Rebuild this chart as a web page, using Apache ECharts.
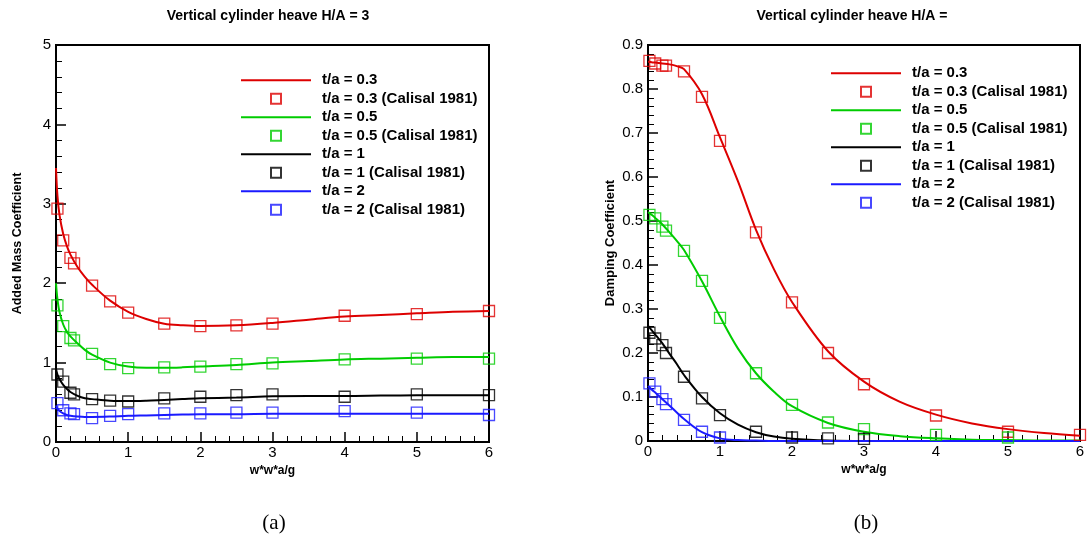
<!DOCTYPE html>
<html>
<head>
<meta charset="utf-8">
<script src="https://cdn.jsdelivr.net/npm/echarts@6/dist/echarts.min.js"></script>
<style>html,body{margin:0;padding:0;background:#fff;}#c{width:1090px;height:545px;}</style>
</head>
<body>
<div id="c"></div>
<script>
// ---- data ----
const expX = [0.02, 0.1, 0.2, 0.25, 0.5, 0.75, 1, 1.5, 2, 2.5, 3, 4, 5, 6];
const lineX = [0, 0.02, 0.05, 0.1, 0.15, 0.2, 0.3, 0.4, 0.5, 0.75, 1, 1.25, 1.5, 1.75, 2, 2.5, 3, 3.5, 4, 4.5, 5, 5.5, 6];

// Added mass (a)
const am03Line = [3.45, 3.1, 2.85, 2.62, 2.47, 2.36, 2.2, 2.08, 1.98, 1.78, 1.64, 1.55, 1.49, 1.47, 1.46, 1.47, 1.5, 1.54, 1.58, 1.6, 1.62, 1.64, 1.65];
const am03Exp  = [2.94, 2.54, 2.32, 2.25, 1.97, 1.77, 1.63, 1.49, 1.46, 1.47, 1.49, 1.59, 1.61, 1.65];
const am05Line = [2.0, 1.8, 1.63, 1.48, 1.39, 1.33, 1.24, 1.16, 1.1, 1.0, 0.95, 0.935, 0.935, 0.94, 0.95, 0.97, 1.0, 1.02, 1.04, 1.05, 1.06, 1.07, 1.07];
const am05Exp  = [1.72, 1.46, 1.31, 1.28, 1.11, 0.98, 0.93, 0.94, 0.95, 0.98, 0.99, 1.04, 1.05, 1.05];
const am1Line  = [0.92, 0.85, 0.79, 0.72, 0.67, 0.63, 0.58, 0.55, 0.54, 0.52, 0.515, 0.52, 0.53, 0.54, 0.55, 0.56, 0.575, 0.58, 0.58, 0.585, 0.59, 0.59, 0.59];
const am1Exp   = [0.85, 0.76, 0.62, 0.6, 0.54, 0.52, 0.51, 0.55, 0.57, 0.59, 0.6, 0.57, 0.6, 0.59];
const am2Line  = [0.46, 0.42, 0.39, 0.36, 0.34, 0.33, 0.32, 0.315, 0.315, 0.32, 0.33, 0.335, 0.34, 0.345, 0.35, 0.35, 0.355, 0.355, 0.355, 0.355, 0.355, 0.355, 0.355];
const am2Exp   = [0.49, 0.4, 0.36, 0.35, 0.3, 0.33, 0.35, 0.36, 0.36, 0.37, 0.37, 0.39, 0.37, 0.34];

// Damping (b)
const dp03Line = [0.862, 0.862, 0.861, 0.86, 0.859, 0.858, 0.856, 0.852, 0.845, 0.788, 0.69, 0.59, 0.48, 0.39, 0.316, 0.204, 0.135, 0.089, 0.06, 0.04, 0.027, 0.018, 0.012];
const dp03Exp  = [0.864, 0.858, 0.853, 0.853, 0.84, 0.782, 0.682, 0.474, 0.315, 0.2, 0.129, 0.058, 0.021, 0.014];
const dp05Line = [0.52, 0.518, 0.514, 0.507, 0.5, 0.492, 0.474, 0.455, 0.434, 0.363, 0.283, 0.21, 0.154, 0.112, 0.079, 0.041, 0.021, 0.011, 0.006, 0.003, 0.002, 0.001, 0.001];
const dp05Exp  = [0.514, 0.506, 0.487, 0.478, 0.432, 0.364, 0.28, 0.154, 0.082, 0.042, 0.027, 0.014, 0.008, null];
const dp1Line  = [0.262, 0.258, 0.252, 0.242, 0.232, 0.222, 0.198, 0.175, 0.15, 0.1, 0.063, 0.037, 0.02, 0.01, 0.005, 0.001, 0, 0, 0, 0, 0, 0, 0];
const dp1Exp   = [0.246, 0.233, 0.218, 0.2, 0.146, 0.097, 0.059, 0.021, 0.008, 0.006, 0.005, null, null, null];
const dp2Line  = [0.125, 0.122, 0.117, 0.11, 0.103, 0.095, 0.08, 0.065, 0.05, 0.02, 0.006, 0.002, 0.001, 0, 0, 0, 0, 0, 0, 0, 0, 0, 0];
const dp2Exp   = [0.131, 0.112, 0.095, 0.084, 0.048, 0.021, 0.008, null, null, null, null, null, null, null];

const names = ['t/a = 0.3', 't/a = 0.3 (Calisal 1981)', 't/a = 0.5', 't/a = 0.5 (Calisal 1981)',
               't/a = 1', 't/a = 1 (Calisal 1981)', 't/a = 2', 't/a = 2 (Calisal 1981)'];
const colors = ['#dd0000', '#00cc00', '#000000', '#1a1aff'];
const titles = ['Vertical cylinder heave H/A = 3', 'Vertical cylinder heave H/A ='];
const yNames = ['Added Mass Coefficient', 'Damping Coefficient'];
const xName = 'w*w*a/g';
const captions = ['(a)', '(b)'];

// ---- build ----
function pairs(xs, ys) { return xs.map((x, i) => [x, ys[i]]).filter(p => p[1] !== null); }

const chartLines = [[am03Line, am05Line, am1Line, am2Line], [dp03Line, dp05Line, dp1Line, dp2Line]];
const chartExps = [[am03Exp, am05Exp, am1Exp, am2Exp], [dp03Exp, dp05Exp, dp1Exp, dp2Exp]];

const series = [];
for (let g = 0; g < 2; g++) {
  for (let k = 0; k < 4; k++) {
    series.push({
      type: 'line', name: names[2 * k], xAxisIndex: g, yAxisIndex: g,
      data: pairs(lineX, chartLines[g][k]), smooth: 0.35, symbol: 'none', showSymbol: false,
      lineStyle: { color: colors[k], width: 2 }, itemStyle: { color: colors[k] }, z: 3, clip: true
    });
    series.push({
      type: 'scatter', name: names[2 * k + 1], xAxisIndex: g, yAxisIndex: g,
      data: pairs(expX, chartExps[g][k]), symbol: 'rect', symbolSize: 11,
      itemStyle: { color: 'rgba(255,255,255,0)', borderColor: colors[k], borderWidth: 1.3, opacity: 0.8 }, z: 4
    });
  }
}

const font = 'Liberation Sans, Arial, Helvetica, sans-serif';
function xAxis(g) {
  return {
    type: 'value', gridIndex: g, min: 0, max: 6, interval: 1,
    name: xName, nameLocation: 'middle', nameGap: 23,
    nameTextStyle: { fontFamily: font, fontWeight: 'bold', fontSize: 12, color: '#000' },
    axisLine: { show: true, onZero: false, lineStyle: { color: '#000', width: 2 } },
    axisTick: { show: true, inside: true, length: 10, lineStyle: { color: '#000', width: 1.5 } },
    minorTick: { show: true, splitNumber: 5, length: 6, lineStyle: { color: '#000', width: 1 } },
    splitLine: { show: false }, minorSplitLine: { show: false },
    axisLabel: { fontFamily: font, fontSize: 15, color: '#000', margin: 3 }
  };
}
function yAxis(g) {
  const max = g === 0 ? 5 : 0.9, iv = g === 0 ? 1 : 0.1;
  return {
    type: 'value', gridIndex: g, min: 0, max: max, interval: iv,
    name: yNames[g], nameLocation: 'middle', nameGap: g === 0 ? 32 : 31, nameRotate: 90,
    nameTextStyle: { fontFamily: font, fontWeight: 'bold', fontSize: g === 0 ? 12.5 : 13, color: '#000' },
    axisLine: { show: true, onZero: false, lineStyle: { color: '#000', width: 2 } },
    axisTick: { show: true, inside: true, length: 10, lineStyle: { color: '#000', width: 1.5 } },
    minorTick: { show: true, splitNumber: 5, length: 6, lineStyle: { color: '#000', width: 1 } },
    splitLine: { show: false }, minorSplitLine: { show: false },
    axisLabel: { fontFamily: font, fontSize: 15, color: '#000', margin: 5,
      formatter: v => g === 0 ? String(v) : (v === 0 ? '0' : v.toFixed(1)) }
  };
}
const lineIcon = 'path://M0,0h70v2h-70z';
const boxIcon = 'path://M0,0h10v10h-10z';
function legend(left, top) {
  return {
    orient: 'vertical', left: left, top: top, itemWidth: 70, itemHeight: 10, itemGap: 0,
    symbolKeepAspect: true, selectedMode: false,
    data: names.map((n, i) => ({ name: n, icon: i % 2 === 0 ? lineIcon : boxIcon })),
    textStyle: { fontFamily: font, fontWeight: 'bold', fontSize: 15, color: '#000', lineHeight: 18.5, padding: [0, 0, 0, 6] }
  };
}

const option = {
  backgroundColor: '#fff',
  animation: false,
  grid: [
    { left: 56, top: 45, width: 433, height: 397, show: true, borderColor: '#000', borderWidth: 2, backgroundColor: 'transparent' },
    { left: 648, top: 45, width: 432, height: 396, show: true, borderColor: '#000', borderWidth: 2, backgroundColor: 'transparent' }
  ],
  xAxis: [xAxis(0), xAxis(1)],
  yAxis: [yAxis(0), yAxis(1)],
  legend: [legend(236, 66), legend(826, 59)],
  graphic: [
    { type: 'text', x: 268, y: 16, style: { text: titles[0], font: 'bold 14px ' + font, fill: '#000', align: 'center', verticalAlign: 'middle' } },
    { type: 'text', x: 852, y: 16, style: { text: titles[1], font: 'bold 14px ' + font, fill: '#000', align: 'center', verticalAlign: 'middle' } },
    { type: 'text', x: 274, y: 523, style: { text: captions[0], font: '21px Liberation Serif, DejaVu Serif, serif', fill: '#000', align: 'center', verticalAlign: 'middle' } },
    { type: 'text', x: 866, y: 523, style: { text: captions[1], font: '21px Liberation Serif, DejaVu Serif, serif', fill: '#000', align: 'center', verticalAlign: 'middle' } }
  ],
  series: series
};
const chart = echarts.init(document.getElementById('c'), null, { renderer: 'canvas' });
chart.setOption(option);
</script>
</body>
</html>
